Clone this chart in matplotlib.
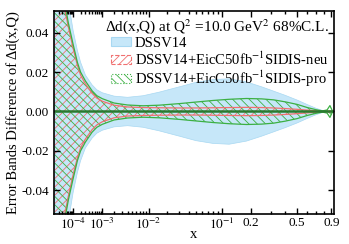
import numpy as np
import matplotlib
matplotlib.use("Agg")
import matplotlib.pyplot as plt
from matplotlib.patches import Patch
from matplotlib.ticker import FixedLocator, FixedFormatter

plt.rcParams['font.family'] = ['Liberation Serif', 'DejaVu Serif']
plt.rcParams['mathtext.fontset'] = 'stix'
plt.rcParams['axes.unicode_minus'] = False
plt.rcParams['hatch.linewidth'] = 0.6

# x grid of the bands
x = [1e-5, 2e-5, 4e-5, 6e-5, 1e-4, 1.5e-4, 2e-4, 3e-4, 5e-4, 7e-4, 1e-3, 2e-3,
     4e-3, 8e-3, 0.015, 0.03, 0.05, 0.08, 0.12, 0.18, 0.25, 0.32, 0.4, 0.5,
     0.6, 0.7, 0.78, 0.84, 0.88, 0.9, 0.92, 0.95]

# half widths of the error bands
dssv14 = [0.2, 0.12, 0.07, 0.056, 0.041, 0.031, 0.025, 0.0185, 0.0135, 0.011,
          0.0095, 0.0078, 0.0072, 0.0080, 0.0098, 0.0125, 0.0148, 0.0162,
          0.0166, 0.0150, 0.0125, 0.0103, 0.0082, 0.0058, 0.0035, 0.0016,
          0.0005, 0.0001, 0.0, 0.0, 0.0, 0.0]
neu = [0.18, 0.1, 0.052, 0.043, 0.032, 0.0235, 0.0185, 0.014, 0.0092, 0.0068,
       0.0052, 0.0032, 0.0023, 0.0020, 0.0019, 0.0018, 0.0018, 0.0019, 0.0020,
       0.0021, 0.0020, 0.0018, 0.0015, 0.0011, 0.0007, 0.0004, 0.0002, 0.0002,
       0.0003, 0.0002, 0.0, 0.0]
pro = [0.19, 0.11, 0.055, 0.045, 0.034, 0.025, 0.020, 0.0155, 0.0105, 0.0080,
       0.0065, 0.0043, 0.0033, 0.0029, 0.0032, 0.0040, 0.0048, 0.0056, 0.0062,
       0.0066, 0.0064, 0.0059, 0.0049, 0.0036, 0.0020, 0.0009, 0.0003, 0.0008,
       0.0030, 0.0015, 0.0, 0.0]

xticks = [1e-4, 1e-3, 1e-2, 0.1, 0.2, 0.5, 0.9]
xticklabels = ['$10^{-4}$', '$10^{-3}$', '$10^{-2}$', '$10^{-1}$', '0.2', '0.5', '0.9']
yticks = [-0.04, -0.02, 0.0, 0.02, 0.04]

x = np.array(x)
dssv14 = np.array(dssv14)
neu = np.array(neu)
pro = np.array(pro)

blue = '#c6e7f9'
red = '#f07070'
green = '#3cb043'

fig = plt.figure(figsize=(3.49, 2.44), dpi=100)
ax = fig.add_axes([0.155, 0.123, 0.802, 0.832])

ax.fill_between(x, -dssv14, dssv14, facecolor=blue, edgecolor='#a8d8f2', lw=0.5)
ax.fill_between(x, -neu, neu, facecolor='none', edgecolor=red, hatch='////', lw=0)
ax.plot(x, neu, color=red, lw=0.9)
ax.plot(x, -neu, color=red, lw=0.9)
ax.fill_between(x, -pro, pro, facecolor='none', edgecolor=green, hatch='\\\\\\\\', lw=0)
ax.plot(x, pro, color=green, lw=0.9)
ax.plot(x, -pro, color=green, lw=0.9)
ax.plot(x, np.zeros_like(x), color='#2a7a30', lw=1.8)

ax.set_xscale('function', functions=(lambda t: np.power(np.clip(t, 0, None), 0.2),
                                     lambda t: np.power(t, 5)))
ax.set_xlim(9e-6, 0.94)
ax.set_ylim(-0.052, 0.051)

minor = []
for d in [1e-5, 1e-4, 1e-3, 1e-2]:
    minor += [k * d for k in range(2, 10)]
minor += [0.3, 0.4, 0.6, 0.7, 0.8]
ax.xaxis.set_major_locator(FixedLocator(xticks))
ax.xaxis.set_major_formatter(FixedFormatter(xticklabels))
ax.xaxis.set_minor_locator(FixedLocator(minor))
ax.set_yticks(yticks)
ax.set_yticklabels(['%.2f' % v for v in yticks])

ax.tick_params(which='both', direction='in', top=True, right=True, labelsize=9.5, width=1)
ax.tick_params(which='major', length=4)
ax.tick_params(which='minor', length=2)
ax.tick_params(axis='x', pad=2)
for s in ax.spines.values():
    s.set_linewidth(1.2)

ax.set_xlabel('x', fontsize=10.5, labelpad=-3)
ax.set_ylabel('Error Bands Difference of Δd(x,Q)', fontsize=10.5, labelpad=1)

handles = [
    Patch(facecolor=blue, edgecolor='#a8d8f2', lw=0.8),
    Patch(facecolor='none', edgecolor=red, hatch='////', lw=0.8, linestyle='--'),
    Patch(facecolor='none', edgecolor=green, hatch='\\\\\\\\', lw=0.8, linestyle=':'),
]
labels = ['DSSV14',
          'DSSV14+EicC50fb$^{-1}$SIDIS-neu',
          'DSSV14+EicC50fb$^{-1}$SIDIS-pro']
leg = ax.legend(handles, labels, loc='upper right', bbox_to_anchor=(0.99, 0.985),
                title='Δd(x,Q) at Q$^2$ =10.0 GeV$^2$ 68%C.L.', frameon=False,
                fontsize=10.5, title_fontsize=11, alignment='right',
                handlelength=1.4, handleheight=0.6, labelspacing=0.05,
                handletextpad=0.25, borderpad=0.2, borderaxespad=0.0)

fig.savefig('out.png', dpi=100)
